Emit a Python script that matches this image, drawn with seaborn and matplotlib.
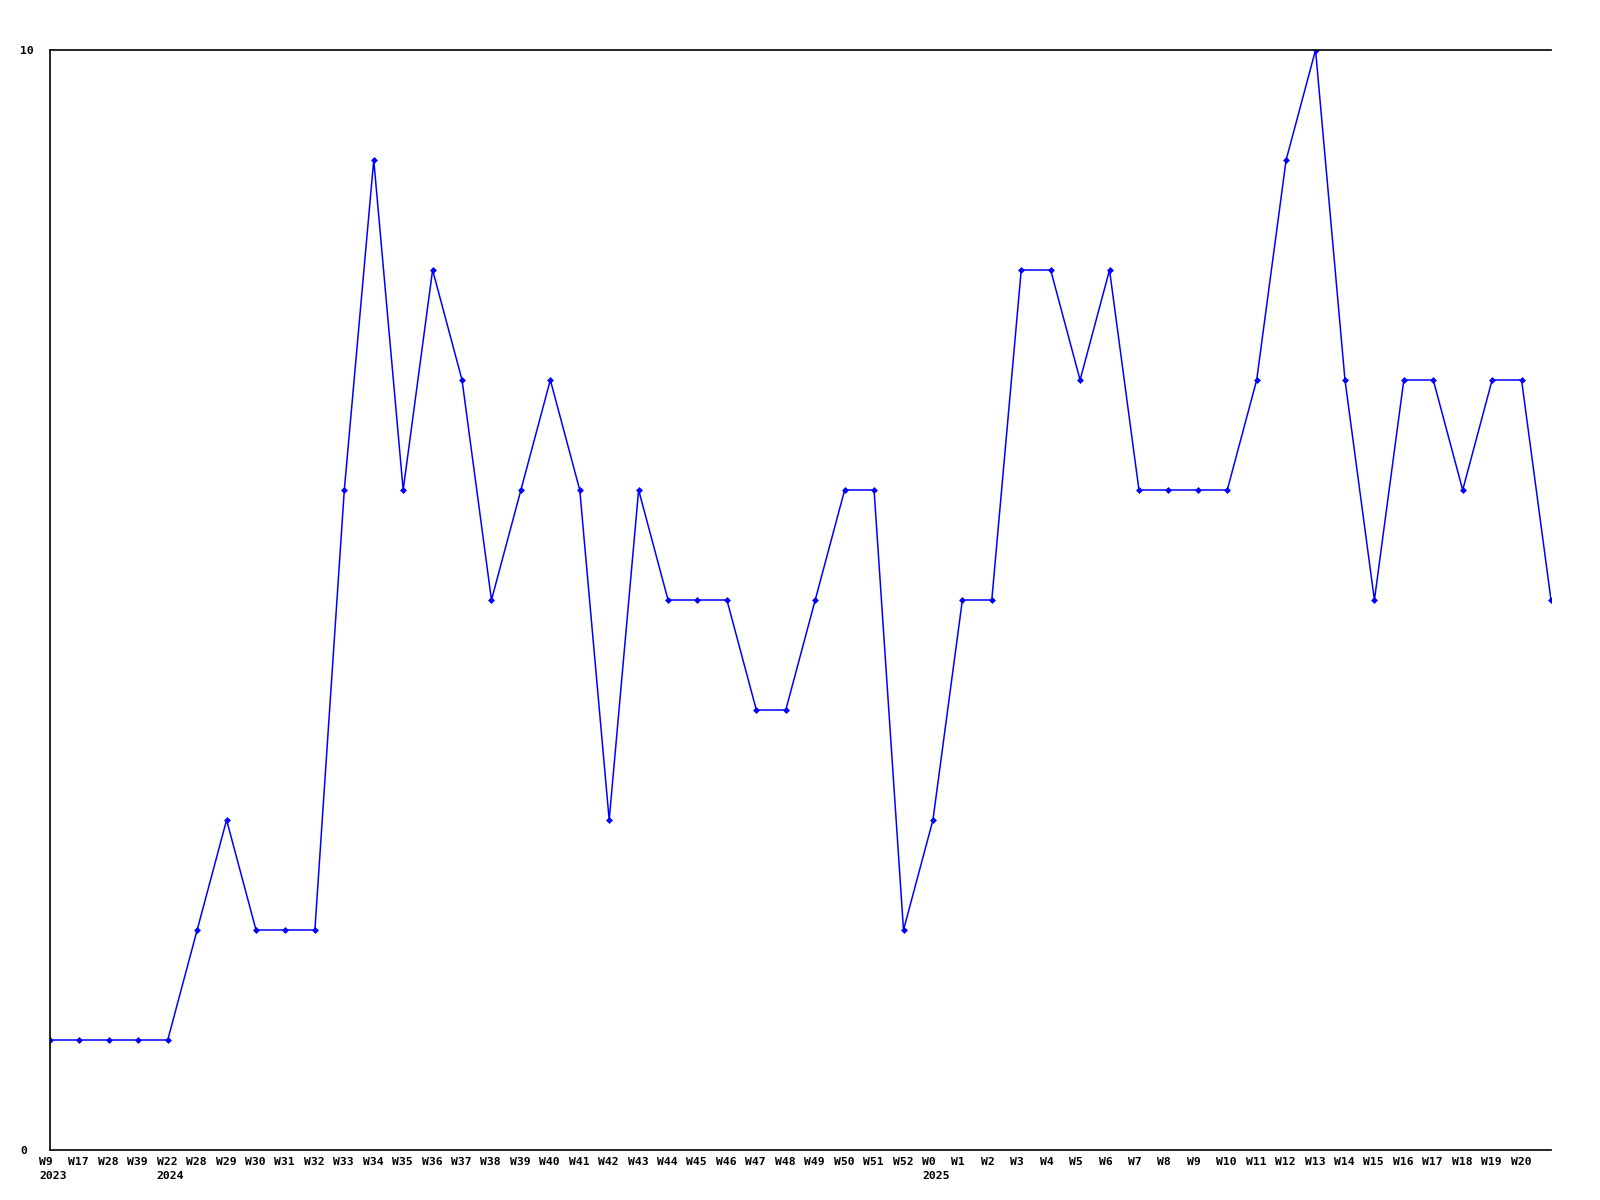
import matplotlib
matplotlib.use("Agg")
import matplotlib.pyplot as plt
import matplotlib.transforms as mtransforms
import seaborn as sns
import pandas as pd

sns.set_style("white")
plt.rcParams["font.family"] = ["DejaVu Sans Mono", "DejaVu Sans"]

# ===== 数据 =====
weeks = ["W9", "W17", "W28", "W39", "W22", "W28", "W29", "W30", "W31", "W32",
         "W33", "W34", "W35", "W36", "W37", "W38", "W39", "W40", "W41", "W42",
         "W43", "W44", "W45", "W46", "W47", "W48", "W49", "W50", "W51", "W52",
         "W0", "W1", "W2", "W3", "W4", "W5", "W6", "W7", "W8", "W9",
         "W10", "W11", "W12", "W13", "W14", "W15", "W16", "W17", "W18", "W19",
         "W20", ""]
years = {0: "2023", 4: "2024", 30: "2025"}
values = [1, 1, 1, 1, 1, 2, 3, 2, 2, 2,
          6, 9, 6, 8, 7, 5, 6, 7, 6, 3,
          6, 5, 5, 5, 4, 4, 5, 6, 6, 2,
          3, 5, 5, 8, 8, 7, 8, 6, 6, 6,
          6, 7, 9, 10, 7, 5, 7, 7, 6, 7,
          7, 5]

df = pd.DataFrame({"idx": range(len(values)), "value": values})

fig = plt.figure(figsize=(16, 12), dpi=100)
ax = fig.add_axes([50 / 1600, 1 - 1150 / 1200, 1501 / 1600, 1100 / 1200])

sns.lineplot(data=df, x="idx", y="value", ax=ax, color="#0000ff", linewidth=1.1,
             marker="D", markersize=3, markeredgewidth=0.5,
             markerfacecolor="#0000ff", markeredgecolor="#0000ff")

ax.set_xlim(0, len(values) - 1)
ax.set_ylim(0, 10)
ax.set_xlabel(""); ax.set_ylabel("")

for side in ["left", "bottom", "top"]:
    ax.spines[side].set_color("black")
    ax.spines[side].set_linewidth(1.2)
ax.spines["right"].set_visible(False)

# x 轴标签
labels = [w + ("\n" + years[i] if i in years else "") for i, w in enumerate(weeks)]
ax.set_xticks(range(len(values)))
ax.set_xticklabels(labels, fontsize=8.2, fontweight="bold", linespacing=1.5,
                   color="black")
ax.tick_params(axis="x", length=0, pad=5)
off = mtransforms.ScaledTranslation(-11 / 100, 0, fig.dpi_scale_trans)
for lab in ax.get_xticklabels():
    lab.set_horizontalalignment("left")
    lab.set_verticalalignment("top")
    lab.set_transform(lab.get_transform() + off)

# y 轴标签
ax.set_yticks([0, 10])
ax.set_yticklabels(["0", "10"], fontsize=8.2, fontweight="bold", color="black")
ax.tick_params(axis="y", length=0, pad=30 * 72 / 100)
for lab in ax.get_yticklabels():
    lab.set_horizontalalignment("left")

fig.savefig("out.png", dpi=100)
plt.close(fig)
